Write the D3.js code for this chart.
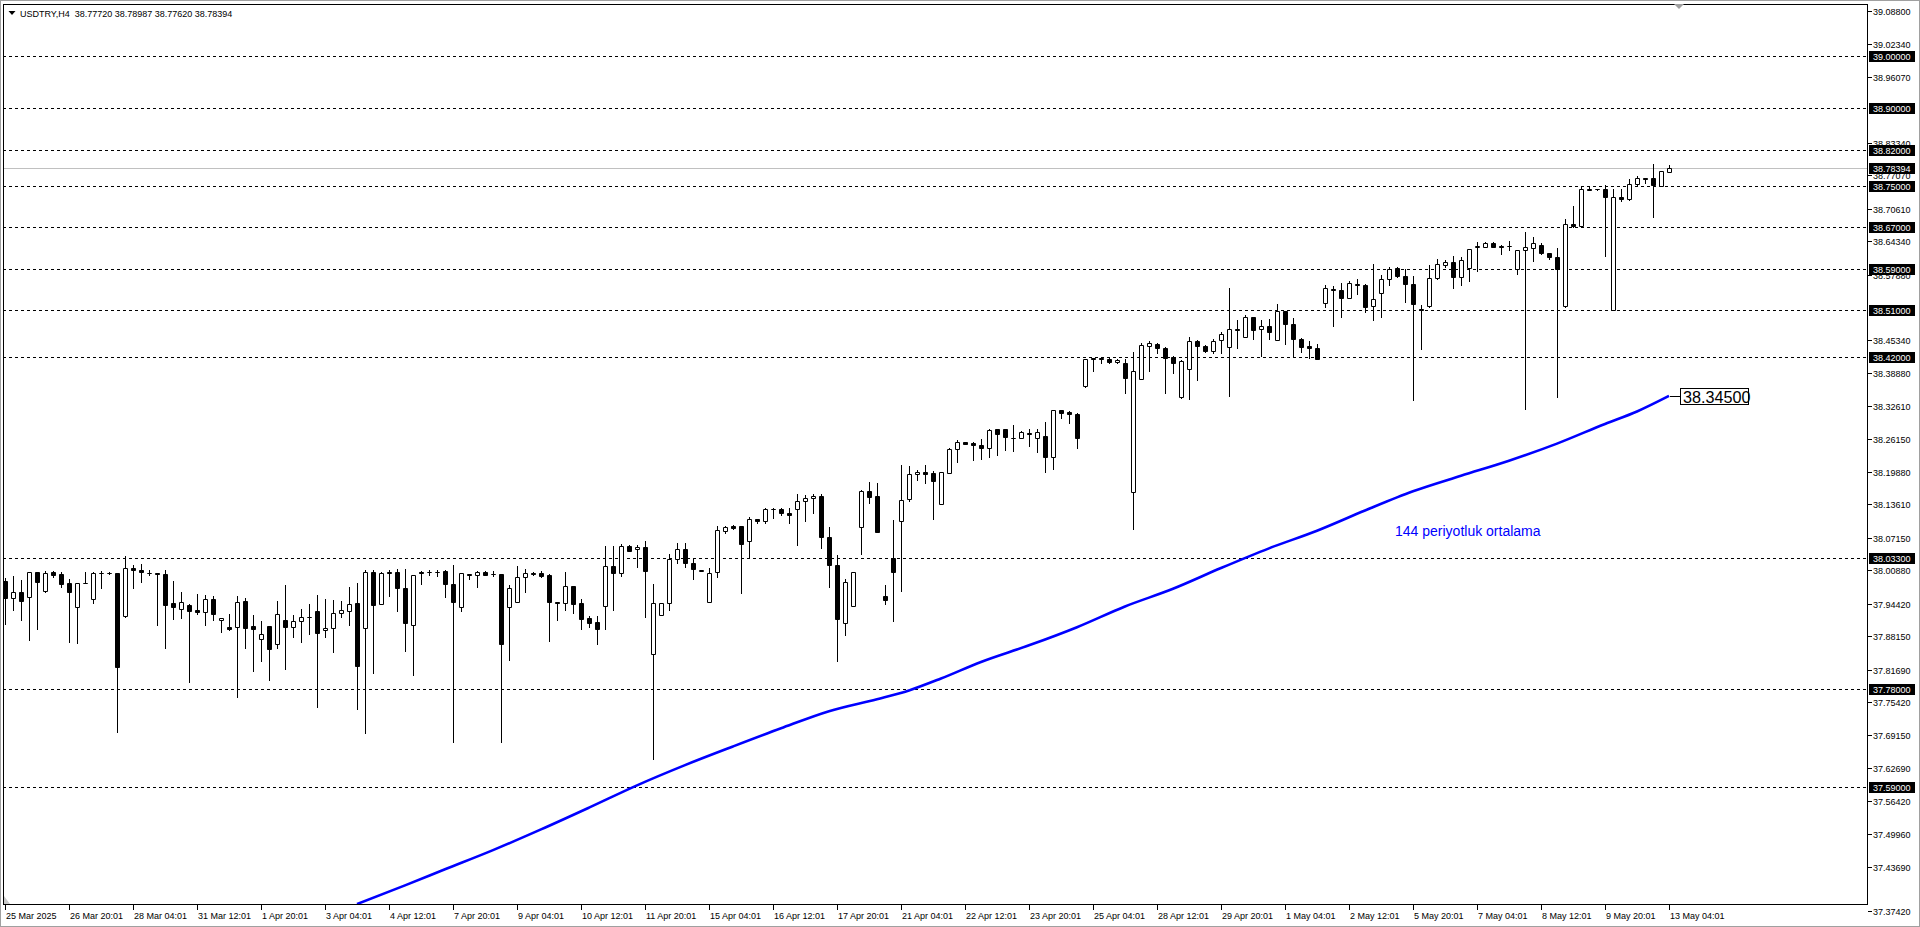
<!DOCTYPE html>
<html><head><meta charset="utf-8">
<script src="https://cdn.jsdelivr.net/npm/d3@7"></script>
<style>
html,body{margin:0;padding:0;background:#fff;overflow:hidden}
text{font-family:"Liberation Sans",Arial,sans-serif}
</style>
</head><body>
<svg id="chart" width="1920" height="927"></svg>
<script>
// ---------- DATA ----------
const symbolTitle = "USDTRY,H4";
const headerValues = ["38.77720", "38.78987", "38.77620", "38.78394"];

const openPrices = [
37.989,37.956,37.966,37.958,38.005,37.969,38.005,38.001,37.985,37.938,
37.984,37.954,38.003,38.003,38.003,37.920,38.014,38.010,38.004,38.003,
38.001,37.945,37.935,37.942,37.932,37.928,37.953,37.912,37.899,37.899,
37.949,37.901,37.877,37.901,37.866,37.913,37.900,37.910,37.918,37.930,
37.893,37.897,37.926,37.931,37.946,37.897,38.005,37.943,38.005,38.005,
37.974,37.904,38.005,38.005,38.006,38.007,37.983,37.938,38.001,37.999,
38.005,38.002,38.001,37.937,37.948,37.996,38.004,38.003,38.000,37.947,
37.945,37.978,37.945,37.916,37.909,37.940,38.017,38.004,38.055,38.049,
38.053,37.848,37.922,37.945,38.030,38.049,38.022,38.007,37.947,38.005,
38.085,38.094,38.094,38.066,38.107,38.103,38.126,38.126,38.120,38.126,
38.142,38.148,38.152,38.072,38.018,37.908,37.939,38.093,38.161,38.152,
37.960,38.032,38.103,38.147,38.194,38.198,38.196,38.136,38.196,38.242,
38.256,38.254,38.251,38.244,38.282,38.281,38.263,38.263,38.273,38.263,
38.268,38.227,38.317,38.314,38.310,38.365,38.419,38.418,38.417,38.410,
38.408,38.159,38.378,38.442,38.446,38.437,38.421,38.342,38.396,38.450,
38.442,38.432,38.452,38.439,38.475,38.459,38.497,38.475,38.480,38.452,
38.509,38.484,38.454,38.441,38.437,38.525,38.552,38.549,38.533,38.561,
38.559,38.518,38.544,38.570,38.591,38.577,38.560,38.512,38.519,38.572,
38.598,38.603,38.575,38.591,38.632,38.633,38.639,38.635,38.634,38.589,
38.626,38.631,38.637,38.620,38.612,38.518,38.676,38.673,38.745,38.744,
38.744,38.511,38.729,38.725,38.753,38.766,38.766,38.750,38.7772];

const highPrices = [
37.993,37.998,37.990,38.005,38.005,38.007,38.007,38.006,37.991,37.985,
38.005,38.005,38.007,38.006,38.003,38.036,38.019,38.021,38.009,38.003,
38.010,37.988,37.967,37.944,37.963,37.961,37.959,37.917,37.924,37.959,
37.956,37.922,37.911,37.901,37.950,37.980,37.922,37.934,37.944,37.961,
37.954,37.951,37.950,37.977,37.985,38.009,38.009,38.006,38.009,38.012,
38.012,37.999,38.007,38.009,38.009,38.009,38.019,38.003,38.001,38.007,
38.007,38.007,38.001,37.980,38.017,38.012,38.006,38.008,38.001,37.947,
38.005,37.978,37.953,37.920,37.920,38.055,38.055,38.059,38.057,38.057,
38.065,37.982,37.945,38.040,38.061,38.061,38.032,38.010,38.014,38.095,
38.095,38.097,38.094,38.112,38.107,38.129,38.129,38.129,38.128,38.156,
38.153,38.155,38.155,38.092,38.038,37.992,38.005,38.164,38.179,38.177,
37.980,38.106,38.212,38.210,38.203,38.211,38.201,38.198,38.245,38.260,
38.257,38.257,38.261,38.281,38.282,38.282,38.289,38.278,38.282,38.282,
38.295,38.317,38.317,38.315,38.313,38.417,38.419,38.421,38.419,38.416,
38.416,38.430,38.448,38.451,38.448,38.439,38.422,38.414,38.458,38.453,
38.444,38.454,38.469,38.554,38.491,38.501,38.497,38.491,38.493,38.522,
38.509,38.495,38.456,38.451,38.446,38.559,38.557,38.563,38.567,38.570,
38.560,38.599,38.578,38.593,38.594,38.590,38.576,38.520,38.598,38.610,
38.608,38.615,38.612,38.628,38.641,38.641,38.641,38.637,38.644,38.626,
38.662,38.651,38.639,38.621,38.630,38.686,38.711,38.747,38.747,38.745,
38.752,38.745,38.745,38.763,38.770,38.766,38.792,38.778,38.78987];

const lowPrices = [
37.906,37.932,37.913,37.874,37.895,37.967,37.996,37.977,37.871,37.868,
37.984,37.945,37.974,38.001,37.697,37.919,37.975,37.987,38.000,37.903,
37.858,37.915,37.917,37.794,37.924,37.903,37.913,37.890,37.893,37.765,
37.859,37.815,37.834,37.798,37.858,37.819,37.881,37.871,37.886,37.746,
37.881,37.852,37.919,37.903,37.742,37.695,37.810,37.943,37.960,37.931,
37.854,37.807,37.983,37.999,37.998,37.958,37.678,37.931,37.992,37.977,
37.999,37.998,37.678,37.836,37.948,37.967,38.000,37.996,37.873,37.913,
37.932,37.926,37.895,37.899,37.866,37.895,37.932,37.998,38.045,38.016,
37.919,37.645,37.922,37.932,38.023,38.016,37.991,38.007,37.947,37.996,
38.081,38.088,37.965,38.032,38.100,38.099,38.109,38.116,38.100,38.058,
38.104,38.119,38.051,37.977,37.834,37.884,37.939,38.041,38.138,38.083,
37.943,37.910,37.969,38.143,38.182,38.178,38.107,38.136,38.196,38.218,
38.253,38.221,38.223,38.228,38.231,38.241,38.239,38.263,38.249,38.236,
38.199,38.205,38.302,38.293,38.245,38.363,38.394,38.409,38.408,38.408,
38.351,38.088,38.378,38.394,38.428,38.350,38.389,38.341,38.340,38.376,
38.430,38.428,38.427,38.344,38.438,38.459,38.455,38.422,38.454,38.452,
38.446,38.422,38.430,38.419,38.417,38.517,38.480,38.497,38.533,38.541,
38.507,38.491,38.497,38.558,38.574,38.527,38.338,38.435,38.517,38.570,
38.594,38.554,38.559,38.567,38.585,38.632,38.633,38.619,38.626,38.580,
38.320,38.606,38.618,38.610,38.342,38.517,38.671,38.673,38.742,38.742,
38.614,38.511,38.720,38.722,38.750,38.755,38.691,38.749,38.7762];

const closePrices = [
37.956,37.966,37.950,38.005,37.987,38.003,38.000,37.983,37.967,37.985,
37.985,38.003,38.004,38.003,37.823,38.014,38.010,38.005,38.003,38.001,
37.942,37.937,37.947,37.931,37.929,37.953,37.924,37.917,37.896,37.947,
37.897,37.896,37.885,37.857,37.924,37.900,37.911,37.919,37.918,37.888,
37.897,37.926,37.932,37.944,37.825,38.005,37.942,38.003,38.003,37.974,
37.908,37.999,38.003,38.005,38.006,37.983,37.948,38.003,37.999,38.005,
38.000,38.002,37.866,37.974,37.995,38.003,38.001,37.998,37.948,37.945,
37.978,37.944,37.915,37.908,37.896,38.017,38.004,38.055,38.046,38.053,
38.008,37.945,37.945,38.030,38.049,38.022,38.012,38.010,38.003,38.086,
38.092,38.091,38.059,38.107,38.103,38.127,38.127,38.120,38.115,38.142,
38.149,38.152,38.072,38.018,37.914,37.987,38.005,38.162,38.151,38.083,
37.952,38.005,38.144,38.194,38.198,38.195,38.180,38.198,38.242,38.256,
38.253,38.251,38.244,38.279,38.271,38.266,38.263,38.275,38.271,38.275,
38.227,38.317,38.313,38.310,38.263,38.416,38.416,38.417,38.410,38.414,
38.380,38.393,38.443,38.448,38.437,38.419,38.408,38.413,38.450,38.442,
38.432,38.450,38.464,38.475,38.473,38.497,38.473,38.480,38.469,38.509,
38.484,38.454,38.439,38.437,38.417,38.554,38.549,38.533,38.562,38.558,
38.516,38.531,38.570,38.590,38.577,38.560,38.522,38.510,38.572,38.599,
38.603,38.575,38.608,38.628,38.635,38.639,38.633,38.633,38.634,38.626,
38.632,38.639,38.620,38.612,38.589,38.676,38.673,38.745,38.743,38.744,
38.729,38.729,38.725,38.753,38.766,38.763,38.752,38.778,38.78394];

const timeLabels = ["25 Mar 2025","26 Mar 20:01","28 Mar 04:01","31 Mar 12:01","1 Apr 20:01",
"3 Apr 04:01","4 Apr 12:01","7 Apr 20:01","9 Apr 04:01","10 Apr 12:01","11 Apr 20:01",
"15 Apr 04:01","16 Apr 12:01","17 Apr 20:01","21 Apr 04:01","22 Apr 12:01","23 Apr 20:01",
"25 Apr 04:01","28 Apr 12:01","29 Apr 20:01","1 May 04:01","2 May 12:01","5 May 20:01",
"7 May 04:01","8 May 12:01","9 May 20:01","13 May 04:01"];

const priceTicks = [39.08800,39.02340,38.96070,38.83340,38.77070,38.70610,38.64340,38.57880,
38.45340,38.38880,38.32610,38.26150,38.19880,38.13610,38.07150,38.00880,37.94420,37.88150,
37.81690,37.75420,37.69150,37.62690,37.56420,37.49960,37.43690,37.37420];

const levelLines = [39.00,38.90,38.82,38.75,38.67,38.59,38.51,38.42,38.033,37.78,37.59];
const currentPrice = 38.78394;

const maBars   = [44,50,55,61,67,73,79,85,91,97,103,109,113,117,122,128,134,140,146,152,158,164,170,176,182,188,194,200,204,208];
const maValues = [37.365,37.401,37.432,37.469,37.509,37.551,37.594,37.633,37.669,37.704,37.737,37.760,37.777,37.800,37.832,37.864,37.899,37.939,37.973,38.013,38.051,38.085,38.124,38.161,38.191,38.220,38.253,38.291,38.315,38.345];
const maLabel = "38.34500";
const maNote = "144 periyotluk ortalama";

// ---------- LAYOUT ----------
const W = 1920, H = 927;
const L = 3, T = 4, R = 1867, B = 904;
const barStep = 8;
const nBars = openPrices.length;

const svg = d3.select("#chart");
const x = d3.scaleLinear().domain([0, nBars - 1]).range([5, 5 + barStep * (nBars - 1)]);
const y = d3.scaleLinear().domain([37.3651, 39.1009]).range([B, T]);
const py = v => Math.round(y(v)) + 0.5;

svg.append("rect").attr("width", W).attr("height", H).attr("fill", "#fff");
svg.append("rect").attr("x", 0.5).attr("y", 0.5).attr("width", W - 1).attr("height", H - 1)
  .attr("fill", "none").attr("stroke", "#a0a0a0");

svg.append("clipPath").attr("id", "plot").append("rect")
  .attr("x", L).attr("y", T).attr("width", R - L).attr("height", B - T);
const plot = svg.append("g").attr("clip-path", "url(#plot)");

// level lines
plot.selectAll("line.lvl").data(levelLines).join("line")
  .attr("x1", L).attr("x2", R).attr("y1", d => py(d)).attr("y2", d => py(d))
  .attr("stroke", "#000").attr("stroke-dasharray", "3,3").attr("shape-rendering", "crispEdges");

// current price line
plot.append("line").attr("x1", L).attr("x2", R)
  .attr("y1", py(currentPrice)).attr("y2", py(currentPrice))
  .attr("stroke", "#c0c0c0").attr("shape-rendering", "crispEdges");

// candles
const idx = d3.range(nBars);
plot.selectAll("line.wick").data(idx).join("line")
  .attr("x1", i => x(i) + 0.5).attr("x2", i => x(i) + 0.5)
  .attr("y1", i => Math.round(y(highPrices[i]))).attr("y2", i => Math.round(y(lowPrices[i])) + 1)
  .attr("stroke", "#000").attr("stroke-width", 1).attr("shape-rendering", "crispEdges");

plot.selectAll("path.body").data(idx).join("path")
  .attr("d", i => {
    const o = openPrices[i], c = closePrices[i];
    const y0 = py(Math.max(o, c)), y1 = py(Math.min(o, c));
    const x0 = x(i) - 1.5, x1 = x(i) + 2.5;
    return `M${x0},${y0}H${x1}V${y1}H${x0}Z`;
  })
  .attr("fill", i => closePrices[i] >= openPrices[i] ? "#fff" : "#000")
  .attr("stroke", "#000").attr("stroke-width", 1);

// moving average
const maLine = d3.line().x((d, k) => x(maBars[k])).y(d => y(d)).curve(d3.curveMonotoneX);
plot.append("path").datum(maValues).attr("d", maLine)
  .attr("fill", "none").attr("stroke", "#0000ff").attr("stroke-width", 2.6);

// MA label
const maEndY = py(maValues[maValues.length - 1]);
plot.append("line").attr("x1", x(maBars[maBars.length - 1]) + 1).attr("x2", 1681)
  .attr("y1", maEndY).attr("y2", maEndY).attr("stroke", "#000").attr("shape-rendering", "crispEdges");
plot.append("rect").attr("x", 1680.5).attr("y", maEndY - 8).attr("width", 68).attr("height", 16)
  .attr("fill", "#fff").attr("stroke", "#000").attr("shape-rendering", "crispEdges");
plot.append("text").attr("x", 1683).attr("y", maEndY + 6).attr("font-size", 16.2)
  .attr("fill", "#000").text(maLabel);

plot.append("text").attr("x", 1395).attr("y", 536).attr("font-size", 14)
  .attr("fill", "#0000ff").text(maNote);

// frame
svg.append("path").attr("d", `M${L + 0.5},${B + 0.5}V${T + 0.5}H${R + 0.5}V${B + 0.5}H${L + 0.5}`)
  .attr("fill", "none").attr("stroke", "#000").attr("shape-rendering", "crispEdges");

// shift marker
svg.append("path").attr("d", "M1674,4L1684,4L1679,9Z").attr("fill", "#a0a0a0");
svg.append("path").attr("d", `M${L + 1},${B - 8}L${L + 1},${B}L${L + 7},${B}Z`).attr("fill", "#c8c8c8");

// title
svg.append("path").attr("d", "M8.5,11L15.5,11L12,15Z").attr("fill", "#000");
svg.append("text").attr("x", 20).attr("y", 16.5).attr("font-size", 9).attr("fill", "#000")
  .attr("xml:space", "preserve")
  .text(symbolTitle + "  " + headerValues.join(" "));

// price axis ticks & labels
const tickY = p => { const v = Math.round(y(p)); return v > B - 6 ? B + 7 : v; };
svg.selectAll("line.ptick").data(priceTicks).join("line")
  .attr("x1", R + 1).attr("x2", R + 5).attr("y1", p => tickY(p) + 0.5).attr("y2", p => tickY(p) + 0.5)
  .attr("stroke", "#000").attr("shape-rendering", "crispEdges");
svg.selectAll("text.ptick").data(priceTicks).join("text")
  .attr("x", R + 6).attr("y", p => tickY(p) + 3.5).attr("font-size", 9).attr("fill", "#000")
  .text(p => p.toFixed(5));

// level label boxes
const boxes = levelLines.concat([currentPrice]);
const bg = svg.append("g");
boxes.forEach(p => {
  const cy = Math.round(y(p));
  bg.append("rect").attr("x", R + 2).attr("y", cy - 5).attr("width", 46).attr("height", 11).attr("fill", "#000");
  bg.append("text").attr("x", R + 6).attr("y", cy + 3.5).attr("font-size", 9).attr("fill", "#fff")
    .text(p.toFixed(5));
});

// time axis
const tIdx = timeLabels.map((t, k) => k * 8);
svg.selectAll("line.ttick").data(tIdx).join("line")
  .attr("x1", i => x(i) + 0.5).attr("x2", i => x(i) + 0.5).attr("y1", B + 1).attr("y2", B + 6)
  .attr("stroke", "#000").attr("shape-rendering", "crispEdges");
svg.selectAll("text.ttick").data(timeLabels).join("text")
  .attr("x", (t, k) => x(k * 8) + 1).attr("y", 919).attr("font-size", 9).attr("fill", "#000")
  .text(t => t);
</script>
</body></html>
